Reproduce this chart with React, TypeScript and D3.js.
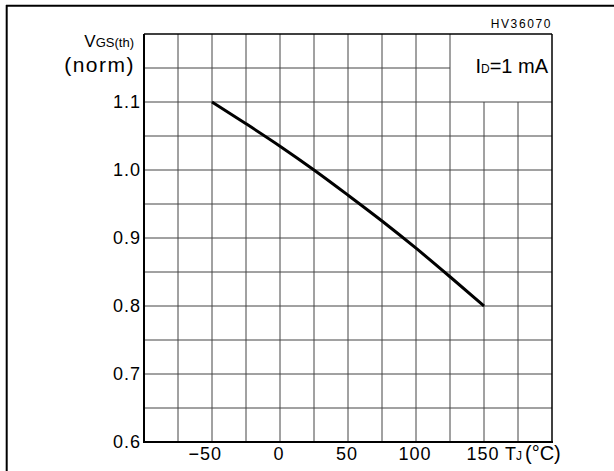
import React from "react";
import * as d3 from "d3";

// Data (TJ in °C, normalized VGS(th))
const temps = [-50, -25, 0, 25, 50, 75, 100, 125, 150];
const vgsNorm = [1.1, 1.068, 1.035, 1.0, 0.963, 0.925, 0.885, 0.843, 0.8];

const xTickValues = [-50, 0, 50, 100, 150];
const yTickValues = [0.6, 0.7, 0.8, 0.9, 1.0, 1.1];
const xGridValues = d3.range(-75, 200, 25);
const yGridValues = d3.range(0.65, 1.2, 0.05);

const W = 614;
const H = 471;
const FONT = "'Liberation Sans', Arial, sans-serif";

// Plot geometry
const LEFT = 144;
const RIGHT = 552;
const TOP = 34;
const BOTTOM = 442;

export default function App() {
  const x = d3.scaleLinear().domain([-100, 200]).range([LEFT, RIGHT]);
  const y = d3.scaleLinear().domain([0.6, 1.2]).range([BOTTOM, TOP]);

  const line = d3
    .line<number>()
    .x((_, i) => x(temps[i]))
    .y((d) => y(d))
    .curve(d3.curveMonotoneX);

  // legend box in the top right corner has no grid
  const boxX = x(125);
  const boxY = y(1.1);

  return (
    <svg
      width={W}
      height={H}
      style={{ position: "absolute", left: 0, top: 0, background: "#fff" }}
      fontFamily={FONT}
    >
      {/* outer frame */}
      <line x1={6} x2={W} y1={5.7} y2={5.7} stroke="#000" strokeWidth={2} />
      <line x1={6.7} x2={6.7} y1={5} y2={H} stroke="#000" strokeWidth={2} />

      {/* grid */}
      {xGridValues.map((v) => (
        <line
          key={"gx" + v}
          x1={x(v)}
          x2={x(v)}
          y1={x(v) > boxX + 1 ? boxY : TOP}
          y2={BOTTOM}
          stroke="#444"
          strokeWidth={1}
        />
      ))}
      {yGridValues.map((v) => (
        <line
          key={"gy" + v.toFixed(2)}
          x1={LEFT}
          x2={y(v) < boxY - 1 ? boxX : RIGHT}
          y1={y(v)}
          y2={y(v)}
          stroke="#444"
          strokeWidth={1}
        />
      ))}

      {/* plot frame */}
      <line x1={LEFT} x2={RIGHT} y1={TOP} y2={TOP} stroke="#000" strokeWidth={1.5} />
      <line x1={RIGHT} x2={RIGHT} y1={TOP} y2={BOTTOM} stroke="#000" strokeWidth={1.5} />
      <line x1={LEFT} x2={LEFT} y1={TOP} y2={BOTTOM + 1} stroke="#000" strokeWidth={2} />
      <line x1={LEFT - 1} x2={RIGHT + 1} y1={BOTTOM} y2={BOTTOM} stroke="#000" strokeWidth={2} />

      {/* curve */}
      <path d={line(vgsNorm) || ""} fill="none" stroke="#000" strokeWidth={3} />

      {/* y tick labels */}
      {yTickValues.map((v) => (
        <text
          key={"ty" + v}
          x={LEFT - 3}
          y={y(v) + 6}
          textAnchor="end"
          fontSize={18}
          letterSpacing={1}
        >
          {v.toFixed(1)}
        </text>
      ))}

      {/* x tick labels */}
      {xTickValues.map((v) =>
        v < 0 ? (
          <text key={"tx" + v} x={x(v) + 10} y={460} textAnchor="end" fontSize={18} letterSpacing={1}>
            {"\u2212" + Math.abs(v)}
          </text>
        ) : (
          <text key={"tx" + v} x={x(v) - 1} y={460} textAnchor="middle" fontSize={18} letterSpacing={1}>
            {String(v)}
          </text>
        )
      )}

      {/* axis titles */}
      <text x={134} y={47} textAnchor="end" fontSize={17}>
        V<tspan fontSize={13}>GS(th)</tspan>
      </text>
      <text x={135} y={72} textAnchor="end" fontSize={21} letterSpacing={1.5}>
        (norm)
      </text>
      <text x={505} y={460} fontSize={18}>
        T<tspan fontSize={12}>J</tspan>
        <tspan fontSize={20} dx={3}>(°C)</tspan>
      </text>

      {/* annotations */}
      <text x={RIGHT} y={28} textAnchor="end" fontSize={12} letterSpacing={1.6}>
        HV36070
      </text>
      <text x={548} y={73} textAnchor="end" fontSize={20}>
        I<tspan fontSize={12}>D</tspan>=1 mA
      </text>
    </svg>
  );
}
